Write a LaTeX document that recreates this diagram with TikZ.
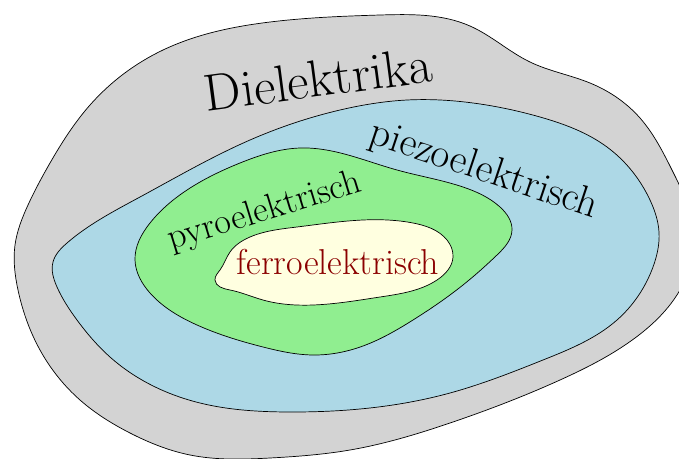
\documentclass[tikz,border=0pt]{standalone}
\usetikzlibrary{hobby}
\definecolor{dgray}{RGB}{211,211,211}
\definecolor{dblue}{RGB}{173,216,230}
\definecolor{dgreen}{RGB}{144,238,144}
\definecolor{dyellow}{RGB}{255,255,224}
\definecolor{dred}{RGB}{139,0,0}
\begin{document}
\begin{tikzpicture}[x=1pt,y=-1pt,
  region/.style={draw=black, line width=0.7pt},
  bigtext/.style={font=\fontsize{52}{56}\selectfont},
  piezotext/.style={font=\fontsize{41}{44}\selectfont},
  midtext/.style={font=\fontsize{36}{40}\selectfont}]
\useasboundingbox (0,0) rectangle (679,458);
\begin{scope}
\clip (0,0) rectangle (679,458);
\path[region, fill=dgray] plot[closed hobby] coordinates {
 (380,15) (470,26) (530,62) (590,83) (640,118) (672,170) (694,235) (680,290)
 (635,338) (560,380) (450,423) (350,450) (270,458) (190,455) (130,433)
 (80,400) (40,350) (18,290) (15,245) (28,205) (50,163) (90,105) (163,50) (270,22)};
\end{scope}
\path[region, fill=dblue] plot[closed hobby] coordinates {
 (250,140) (140,197) (67,243) (53,262) (57,287) (77,320) (110,357)
 (200,403) (290,412) (450,393) (543,360) (617,320) (653,267)
 (659,232) (650,200) (607,147) (540,117) (473,103) (407,100) (340,110)};
\path[region, fill=dgreen] plot[closed hobby] coordinates {
 (300,148) (397,170) (463,187) (500,207) (512,230) (497,255)
 (463,285) (413,320) (363,346) (313,355) (263,347) (197,325) (150,293)
 (135,260) (150,223) (187,190) (240,163)};
\path[region, fill=dyellow] plot[closed hobby] coordinates {
 (220,270) (230,252) (250,237) (297,227) (363,220) (413,223) (447,240)
 (453,257) (437,280) (380,297) (313,305) (263,300) (230,290) (215,280)};
\node[bigtext, rotate=7.5] (diel) at (318,79) {Dielektrika};
\node[piezotext, rotate=-18.5] (piezo) at (484,171) {piezoelektrisch};
\node[midtext, rotate=17] (pyro) at (265,212) {pyroelektrisch};
\node[midtext, text=dred] (ferro) at (338,262) {ferroelektrisch};
\end{tikzpicture}
\end{document}
